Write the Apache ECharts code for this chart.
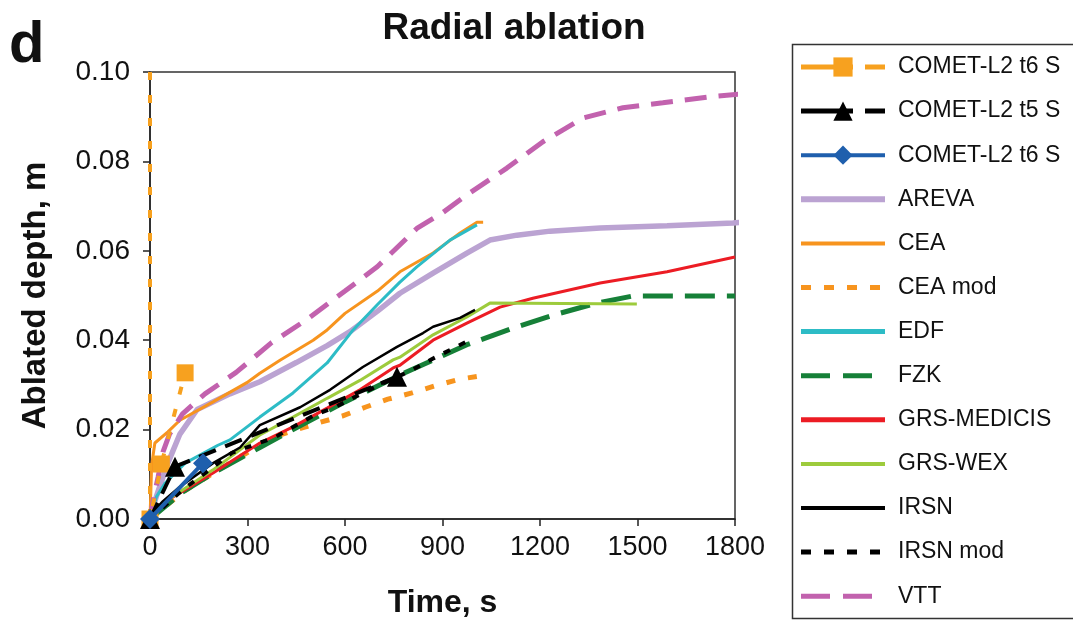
<!DOCTYPE html>
<html>
<head>
<meta charset="utf-8">
<script src="https://cdn.jsdelivr.net/npm/echarts@6/dist/echarts.min.js"></script>
<style>
html,body{margin:0;padding:0;background:#fff;}
#chart{width:1073px;height:621px;}
</style>
</head>
<body>
<div id="chart"></div>
<script>
// ---- Data (time in s, ablated depth in m) ----
var xTicks = [0, 300, 600, 900, 1200, 1500, 1800];
var yTicks = [0.00, 0.02, 0.04, 0.06, 0.08, 0.10];

var cometT6S_orange = [[0,0.1],[0,0],[35,0.0123],[108,0.0327]];
var cometT5S = [[0,0],[77,0.0117],[760,0.0318]];
var cometT6S_blue = [[0,0],[163,0.0125]];
var areva = [[0,0],[15,0.004],[31,0.0075],[55,0.0125],[92,0.019],[145,0.0245],[246,0.028],[338,0.0307],[450,0.035],[545,0.0388],[615,0.0419],[700,0.0465],[769,0.0505],[871,0.055],[975,0.0595],[1046,0.0624],[1129,0.0635],[1231,0.0644],[1385,0.0651],[1591,0.0656],[1794,0.0662],[1831,0.0665]];
var cea = [[0,0],[5,0.012],[15,0.017],[55,0.0195],[92,0.0221],[194,0.0262],[298,0.0305],[338,0.0326],[400,0.0355],[502,0.040],[545,0.0423],[600,0.046],[700,0.051],[769,0.0553],[871,0.0595],[954,0.064],[1006,0.0664],[1025,0.0664]];
var ceaMod = [[0,0],[100,0.006],[200,0.0105],[378,0.0183],[452,0.020],[517,0.0215],[591,0.023],[662,0.025],[732,0.0268],[806,0.0282],[877,0.0298],[954,0.0313],[1015,0.032]];
var edf = [[0,0],[20,0.005],[46,0.008],[108,0.0125],[209,0.0165],[246,0.0177],[338,0.0228],[440,0.0282],[545,0.0349],[625,0.0423],[700,0.048],[769,0.053],[821,0.0564],[923,0.0624],[1006,0.0658]];
var fzk = [[0,0],[100,0.006],[200,0.0105],[338,0.016],[440,0.020],[600,0.0262],[769,0.0322],[975,0.039],[1117,0.0427],[1240,0.0456],[1375,0.0483],[1486,0.0499],[1800,0.0499]];
var grsMedicis = [[0,0],[40,0.0036],[194,0.0103],[338,0.017],[440,0.0206],[545,0.0248],[646,0.0289],[748,0.0338],[769,0.0344],[871,0.040],[975,0.0438],[1077,0.0474],[1178,0.0494],[1385,0.0528],[1591,0.0553],[1800,0.0586]];
var grsWex = [[0,0],[40,0.0036],[194,0.011],[338,0.0188],[440,0.0228],[545,0.027],[646,0.031],[748,0.0356],[769,0.0362],[871,0.0412],[975,0.0452],[1046,0.0483],[1498,0.0481]];
var irsn = [[0,0],[15,0.002],[40,0.004],[92,0.0072],[194,0.0125],[277,0.016],[338,0.021],[462,0.025],[554,0.0289],[655,0.034],[760,0.0385],[840,0.0416],[871,0.043],[954,0.045],[1000,0.0468]];
var irsnMod = [[0,0],[100,0.0065],[252,0.0148],[385,0.0183],[440,0.0206],[508,0.0233],[569,0.025],[631,0.0273],[692,0.0295],[806,0.0333],[868,0.0358],[991,0.0403]];
var vtt = [[0,0],[12,0.005],[25,0.0094],[40,0.015],[60,0.019],[100,0.0235],[169,0.028],[265,0.0328],[375,0.0395],[480,0.0445],[600,0.051],[700,0.0565],[821,0.065],[900,0.0685],[975,0.0725],[1098,0.0785],[1209,0.0844],[1332,0.0897],[1455,0.092],[1578,0.0931],[1717,0.0944],[1825,0.0951]];

var legendNames = ['COMET-L2 t6 S','COMET-L2 t5 S','COMET-L2 t6 S ','AREVA','CEA','CEA mod','EDF','FZK','GRS-MEDICIS','GRS-WEX','IRSN','IRSN mod','VTT'];
var markerNames = ['COMET-L2 t6 S','COMET-L2 t5 S','COMET-L2 t6 S '];

var FONT = "'Liberation Sans', Arial, sans-serif";

function lineSeries(name, data, color, width, type, extra) {
  var s = {
    name: name, type: 'line', data: data, symbol: 'none', smooth: false,
    clip: false, silent: true,
    lineStyle: { color: color, width: width, type: type || 'solid', cap: 'butt' },
    itemStyle: { color: color }
  };
  if (extra) for (var k in extra) s[k] = extra[k];
  return s;
}

var orangeData = cometT6S_orange.map(function (p, i) {
  return i === 0 ? { value: p, symbol: 'none' } : { value: p };
});

var series = [
  lineSeries('AREVA', areva, '#bba3d2', 5.5, 'solid'),
  lineSeries('CEA', cea, '#f7941e', 3, 'solid'),
  lineSeries('CEA mod', ceaMod, '#f7941e', 5, [9, 13]),
  lineSeries('EDF', edf, '#2dbcc6', 3, 'solid'),
  lineSeries('FZK', fzk, '#168038', 5, [30, 12]),
  lineSeries('GRS-MEDICIS', grsMedicis, '#ec1c24', 3, 'solid'),
  lineSeries('GRS-WEX', grsWex, '#9dcb3c', 3, 'solid'),
  lineSeries('IRSN', irsn, '#000000', 2.5, 'solid'),
  lineSeries('IRSN mod', irsnMod, '#000000', 4, [7, 10]),
  lineSeries('VTT', vtt, '#c262ae', 5, [22, 12]),
  lineSeries('COMET-L2 t5 S', cometT5S, '#000000', 4, [18, 10], { symbol: 'triangle', symbolSize: 20, showAllSymbol: true, z: 5 }),
  lineSeries('COMET-L2 t6 S ', cometT6S_blue, '#1f5fad', 4, 'solid', { symbol: 'diamond', symbolSize: 20, showAllSymbol: true, z: 6 }),
  lineSeries('COMET-L2 t6 S', orangeData, '#f7a11f', 4, [8, 15], { symbol: 'rect', symbolSize: 17, showAllSymbol: true, z: 4 })
];

var legendWidths = { 'AREVA': 6, 'CEA': 4, 'CEA mod': 5, 'EDF': 5, 'FZK': 5, 'GRS-MEDICIS': 5, 'GRS-WEX': 4, 'IRSN': 4, 'IRSN mod': 5, 'VTT': 5 };
var legendData = legendNames.map(function (n) {
  var item = { name: n };
  if (markerNames.indexOf(n) < 0) {
    item.itemStyle = { opacity: 0 };
    item.lineStyle = { width: legendWidths[n] };
  } else if (n === 'COMET-L2 t6 S' || n === 'COMET-L2 t5 S') {
    item.lineStyle = { width: 5, type: [52, 12, 20, 60] };
  } else {
    item.lineStyle = { width: 4 };
  }
  if (n === 'CEA mod' || n === 'IRSN mod') item.lineStyle.type = [10, 13];
  if (n === 'FZK' || n === 'VTT') item.lineStyle.type = [29, 13];
  return item;
});

var chart = echarts.init(document.getElementById('chart'), null, { renderer: 'canvas' });
chart.setOption({
  animation: false,
  backgroundColor: '#fff',
  textStyle: { fontFamily: FONT },
  title: {
    text: 'Radial ablation', left: 509, top: 5, textAlign: 'center',
    textStyle: { fontFamily: FONT, fontWeight: 'bold', fontSize: 37, color: '#111' }
  },
  graphic: [
    { type: 'text', left: 9, top: 17, style: { text: 'd', font: 'bold 58px ' + FONT, fill: '#111' } },
    { type: 'rect', left: 790, top: 42, shape: { width: 320, height: 574 }, style: { fill: 'none', stroke: '#333', lineWidth: 1.5 }, z: -1 }
  ],
  legend: {
    data: legendData,
    orient: 'vertical', left: 798, top: 55, padding: 0,
    itemWidth: 84, itemHeight: 24, itemGap: 20.1,
    lineStyle: { width: 'inherit' },
    textStyle: { fontFamily: FONT, fontSize: 23, color: '#111', lineHeight: 24, padding: [0, 0, 0, 8] },
    selectedMode: false
  },
  grid: { left: 150, right: 338, top: 72, bottom: 102, outerBoundsMode: 'none', containLabel: false, show: true, borderColor: '#333', borderWidth: 1.5, backgroundColor: 'transparent' },
  xAxis: {
    type: 'value', min: 0, max: 1800, interval: 300,
    name: 'Time, s', nameLocation: 'middle', nameGap: 68,
    nameTextStyle: { fontFamily: FONT, fontWeight: 'bold', fontSize: 32, color: '#111' },
    axisLine: { show: true, lineStyle: { color: '#222', width: 1.5 } },
    axisTick: { show: true, inside: false, length: 7, lineStyle: { color: '#222', width: 1.5 } },
    axisLabel: { fontFamily: FONT, fontSize: 27, color: '#111', margin: 15,
      formatter: function (v) { return xTicks.indexOf(v) >= 0 ? String(v) : ''; } },
    splitLine: { show: false }
  },
  yAxis: {
    type: 'value', min: 0, max: 0.1, interval: 0.02,
    name: 'Ablated depth, m', nameLocation: 'middle', nameGap: 98, nameRotate: 90,
    nameTextStyle: { fontFamily: FONT, fontWeight: 'bold', fontSize: 33, color: '#111' },
    axisLine: { show: true, lineStyle: { color: '#222', width: 1.5 } },
    axisTick: { show: true, inside: false, length: 7, lineStyle: { color: '#222', width: 1.5 } },
    axisLabel: { fontFamily: FONT, fontSize: 28, color: '#111', margin: 20,
      formatter: function (v) { return v.toFixed(2); } },
    splitLine: { show: false }
  },
  series: series
});
</script>
</body>
</html>
